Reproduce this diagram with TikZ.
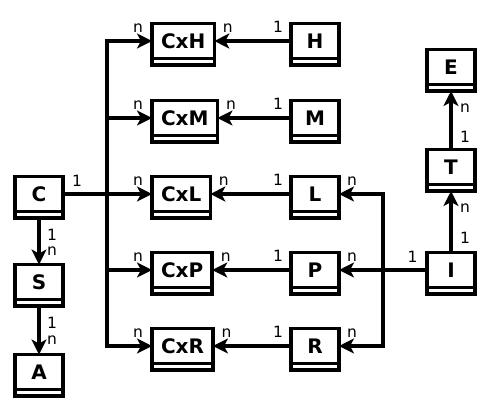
\documentclass[tikz,border=0pt]{standalone}
\usepackage{fontspec}
\setmainfont{DejaVu Sans}
\usetikzlibrary{arrows.meta}

\begin{document}
\begin{tikzpicture}[x=1pt,y=-1pt,line width=3.6pt,
    ent/.style={draw,outer sep=0pt,minimum width=48pt,minimum height=35pt,
      inner xsep=9pt,font=\fontsize{20}{24}\selectfont\bfseries},
    lab/.style={font=\fontsize{15.5}{18}\selectfont,inner sep=0pt},
    rel/.style={-{Stealth[length=15pt,width=15pt,inset=4pt]}}]
    \useasboundingbox (0,0) rectangle (500,405);
    % entities
    \node[ent] (C) at (39,194) {C};
    \node[ent] (S) at (39,282) {S};
    \node[ent] (A) at (39,372) {A};
    \node[ent,anchor=west] (CxH) at (152,41) {CxH};
    \node[ent,anchor=west] (CxM) at (152,118) {CxM};
    \node[ent,anchor=west] (CxL) at (152,194) {CxL};
    \node[ent,anchor=west] (CxP) at (152,270) {CxP};
    \node[ent,anchor=west] (CxR) at (152,346) {CxR};
    \node[ent] (H) at (315,41) {H};
    \node[ent] (M) at (315,118) {M};
    \node[ent] (L) at (315,194) {L};
    \node[ent] (P) at (315,270) {P};
    \node[ent] (R) at (315,346) {R};
    \node[ent] (I) at (451,270) {I};
    \node[ent] (T) at (451,167) {T};
    \node[ent] (E) at (451,67) {E};
    \foreach \n in {C,S,A,CxH,CxM,CxL,CxP,CxR,H,M,L,P,R,I,T,E}
      \draw (\n.south west) -- ++(0,-6.5pt) -| (\n.south east);
    % buses
    \coordinate (busl) at (107,0);
    \coordinate (busr) at (383,0);
    \draw (C.east) -- (C.east -| busl);
    \draw[rel] (CxR.west -| busl) -- (CxH.west -| busl) -- (CxH.west);
    \draw[rel] (CxH.west -| busl) -- (CxR.west -| busl) -- (CxR.west);
    \foreach \n in {CxM,CxL,CxP}
      \draw[rel] (\n.west -| busl) -- (\n.west);
    \draw[rel] (R.east -| busr) -- (L.east -| busr) -- (L.east);
    \draw[rel] (L.east -| busr) -- (R.east -| busr) -- (R.east);
    \draw[rel] (I.west) -- (P.east);
    \draw[rel] (H.west) -- (CxH.east);
    \draw[rel] (M.west) -- (CxM.east);
    \draw[rel] (L.west) -- (CxL.east);
    \draw[rel] (P.west) -- (CxP.east);
    \draw[rel] (R.west) -- (CxR.east);
    \draw[rel] ([yshift=-6.5pt]C.south) -- (S.north);
    \draw[rel] ([yshift=-6.5pt]S.south) -- (A.north);
    \draw[rel] (I.north) -- ([yshift=-6.5pt]T.south);
    \draw[rel] (T.north) -- ([yshift=-6.5pt]E.south);
    % cardinalities
    \node[lab] (c1) at ([shift={(14pt,13.5pt)}]C.east) {1};
    \foreach \n in {CxH,CxM,CxL,CxP,CxR}
      \node[lab] (\n n) at ([shift={(-14pt,13pt)}]\n.west) {n};
    \foreach \n/\m in {H/CxH,M/CxM,L/CxL,P/CxP,R/CxR}{
      \node[lab] (\n 1) at ([shift={(-13pt,14pt)}]\n.west) {1};
      \node[lab] (\m m) at ([shift={(13.5pt,13pt)}]\m.east) {n};
    }
    \foreach \n in {L,P,R}
      \node[lab] (\n n) at ([shift={(13pt,13pt)}]\n.east) {n};
    \node[lab] (i1) at ([shift={(-14.5pt,13.5pt)}]I.west) {1};
    \node[lab] (i2) at ([shift={(14pt,15pt)}]I.north) {1};
    \node[lab] (tn) at ([shift={(14pt,-24pt)}]T.south) {n};
    \node[lab] (t1) at ([shift={(14pt,13pt)}]T.north) {1};
    \node[lab] (en) at ([shift={(14pt,-24pt)}]E.south) {n};
    \node[lab] (c2) at ([shift={(13pt,-23pt)}]C.south) {1};
    \node[lab] (sn) at ([shift={(13pt,13.5pt)}]S.north) {n};
    \node[lab] (s1) at ([shift={(13pt,-23pt)}]S.south) {1};
    \node[lab] (an) at ([shift={(13pt,14pt)}]A.north) {n};
\end{tikzpicture}
\end{document}
